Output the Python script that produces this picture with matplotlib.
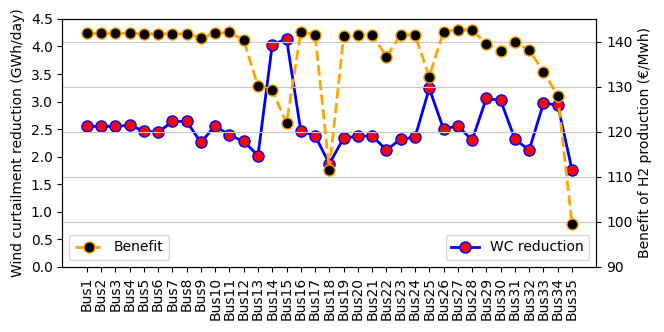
import matplotlib
matplotlib.use("Agg")
import matplotlib.pyplot as plt
import numpy as np

buses = [f"Bus{i}" for i in range(1, 36)]

# wind curtailment reduction (GWh/day)
wc_reduction = [2.55, 2.55, 2.55, 2.57, 2.47, 2.44, 2.64, 2.64, 2.26, 2.56,
                2.39, 2.28, 2.02, 4.03, 4.14, 2.47, 2.38, 1.87, 2.34, 2.37,
                2.38, 2.12, 2.32, 2.35, 3.24, 2.50, 2.56, 2.30, 3.06, 3.02,
                2.32, 2.12, 2.97, 2.94, 1.76]

# benefit of H2 production (EUR/MWh)
benefit = [141.9, 141.9, 141.9, 141.9, 141.8, 141.8, 141.8, 141.8, 140.9, 141.9,
           142.1, 140.4, 130.1, 129.3, 121.9, 142.2, 141.6, 111.6, 141.2, 141.6,
           141.6, 136.7, 141.6, 141.5, 132.3, 142.3, 142.7, 142.7, 139.5, 138.0,
           139.9, 138.2, 133.4, 128.0, 99.6]

x = np.arange(len(buses))

fig, ax1 = plt.subplots(figsize=(6.64, 3.32), dpi=100)
ax1.plot(x, wc_reduction, "-o", color="blue", lw=2, markersize=8,
         markerfacecolor="red", markeredgecolor="blue", label="WC reduction")
ax1.set_ylim(0, 4.5)
ax1.set_yticks(np.arange(0, 4.51, 0.5))
ax1.set_ylabel("Wind curtailment reduction (GWh/day)")
ax1.set_xticks(x)
ax1.set_xticklabels(buses, rotation=90)
ax1.legend(loc="lower right")

ax2 = ax1.twinx()
ax2.plot(x, benefit, "--o", color="orange", lw=2, markersize=8,
         markerfacecolor="black", markeredgecolor="orange", label="Benefit")
ax2.set_ylim(90, 145.1)
ax2.set_ylabel("Benefit of H2 production (€/Mwh)")
ax2.grid(axis="y", color="#c8c8c8")
ax2.legend(loc="lower left")

fig.subplots_adjust(left=0.094, right=0.898, top=0.943, bottom=0.196)
fig.savefig("out.png")
